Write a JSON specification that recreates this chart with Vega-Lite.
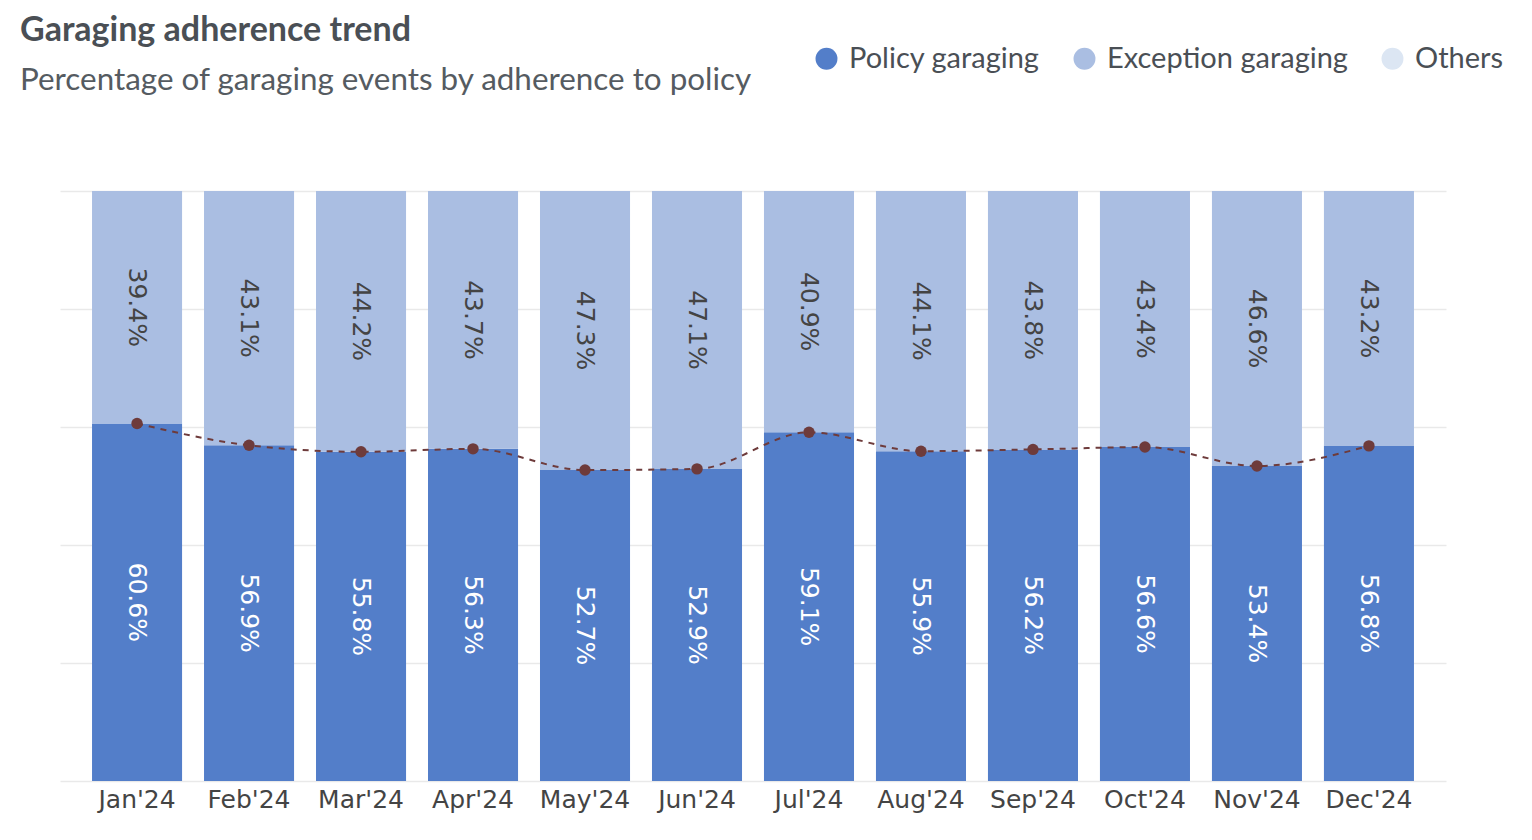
{
  "$schema": "https://vega.github.io/schema/vega-lite/v6.json",
  "width": 1386,
  "height": 590,
  "autosize": {"type": "none"},
  "padding": {"left": 60, "top": 191, "right": 86, "bottom": 59},
  "background": "white",
  "title": {
    "text": "Garaging adherence trend",
    "subtitle": "Percentage of garaging events by adherence to policy",
    "anchor": "start",
    "frame": "group",
    "dx": -40,
    "offset": -52,
    "font": "Lato",
    "fontSize": 34,
    "fontWeight": "bold",
    "color": "#4a4f55",
    "subtitleFont": "Lato",
    "subtitleFontSize": 31.4,
    "subtitleColor": "#555b61",
    "subtitlePadding": 17
  },
  "config": {
    "view": {"stroke": null},
    "axis": {"labelFont": "DejaVu Sans", "labelFontSize": 25, "labelColor": "#444444"}
  },
  "data": {
    "values": [
      {"month": "Jan'24", "series": "Policy garaging", "value": 0.606},
      {"month": "Jan'24", "series": "Exception garaging", "value": 0.394},
      {"month": "Feb'24", "series": "Policy garaging", "value": 0.569},
      {"month": "Feb'24", "series": "Exception garaging", "value": 0.431},
      {"month": "Mar'24", "series": "Policy garaging", "value": 0.558},
      {"month": "Mar'24", "series": "Exception garaging", "value": 0.442},
      {"month": "Apr'24", "series": "Policy garaging", "value": 0.563},
      {"month": "Apr'24", "series": "Exception garaging", "value": 0.437},
      {"month": "May'24", "series": "Policy garaging", "value": 0.527},
      {"month": "May'24", "series": "Exception garaging", "value": 0.473},
      {"month": "Jun'24", "series": "Policy garaging", "value": 0.529},
      {"month": "Jun'24", "series": "Exception garaging", "value": 0.471},
      {"month": "Jul'24", "series": "Policy garaging", "value": 0.591},
      {"month": "Jul'24", "series": "Exception garaging", "value": 0.409},
      {"month": "Aug'24", "series": "Policy garaging", "value": 0.559},
      {"month": "Aug'24", "series": "Exception garaging", "value": 0.441},
      {"month": "Sep'24", "series": "Policy garaging", "value": 0.562},
      {"month": "Sep'24", "series": "Exception garaging", "value": 0.438},
      {"month": "Oct'24", "series": "Policy garaging", "value": 0.566},
      {"month": "Oct'24", "series": "Exception garaging", "value": 0.434},
      {"month": "Nov'24", "series": "Policy garaging", "value": 0.534},
      {"month": "Nov'24", "series": "Exception garaging", "value": 0.466},
      {"month": "Dec'24", "series": "Policy garaging", "value": 0.568},
      {"month": "Dec'24", "series": "Exception garaging", "value": 0.432}
    ]
  },
  "encoding": {
    "x": {
      "field": "month",
      "type": "nominal",
      "sort": null,
      "scale": {"paddingInner": 0.196, "paddingOuter": 0.286},
      "axis": {"title": null, "labelAngle": 0, "ticks": false, "domain": false, "labelPadding": 6}
    }
  },
  "layer": [
    {
      "mark": {"type": "bar"},
      "encoding": {
        "y": {
          "field": "value",
          "type": "quantitative",
          "stack": "zero",
          "scale": {"domain": [0, 1], "nice": false},
          "axis": {
            "title": null,
            "values": [0, 0.2, 0.4, 0.6, 0.8, 1],
            "labels": false,
            "ticks": false,
            "domain": false,
            "gridColor": "#e9e9e9",
            "gridWidth": 1.5
          }
        },
        "color": {
          "field": "series",
          "type": "nominal",
          "scale": {
            "domain": ["Policy garaging", "Exception garaging", "Others"],
            "range": ["#537ec9", "#aabee2", "#dce6f3"]
          },
          "legend": {
            "title": null,
            "orient": "none",
            "direction": "horizontal",
            "legendX": 752,
            "legendY": -147,
            "symbolType": "circle",
            "symbolSize": 480,
            "symbolStrokeWidth": 0,
            "symbolOpacity": 1,
            "labelFont": "Lato",
            "labelFontSize": 29,
            "labelColor": "#4a4f55",
            "labelLimit": 400,
            "columnPadding": 30,
            "labelOffset": 8
          }
        },
        "order": {"field": "series", "sort": "descending"}
      }
    },
    {
      "transform": [{"filter": "datum.series === 'Policy garaging'"}],
      "mark": {"type": "line", "color": "#6e3b3b", "strokeWidth": 2, "strokeDash": [6, 6], "interpolate": "monotone"},
      "encoding": {
        "y": {"field": "value", "type": "quantitative", "scale": {"domain": [0, 1], "nice": false}, "axis": null}
      }
    },
    {
      "transform": [{"filter": "datum.series === 'Policy garaging'"}],
      "mark": {"type": "point", "filled": true, "opacity": 1, "color": "#6e3b3b", "size": 130},
      "encoding": {
        "y": {"field": "value", "type": "quantitative", "scale": {"domain": [0, 1], "nice": false}, "axis": null}
      }
    },
    {
      "transform": [{"filter": "datum.series === 'Policy garaging'"}],
      "mark": {"type": "text", "angle": 90, "fontSize": 25, "font": "DejaVu Sans", "color": "white", "align": "center", "baseline": "middle"},
      "encoding": {
        "y": {"field": "value", "type": "quantitative", "scale": {"domain": [0, 2], "nice": false}, "axis": null},
        "text": {"field": "value", "type": "quantitative", "format": ".1%"}
      }
    },
    {
      "transform": [{"filter": "datum.series === 'Exception garaging'"}],
      "mark": {"type": "text", "angle": 90, "fontSize": 25, "font": "DejaVu Sans", "color": "#444444", "align": "center", "baseline": "middle"},
      "encoding": {
        "y": {"field": "value", "type": "quantitative", "scale": {"domain": [0, 2], "nice": false, "reverse": true}, "axis": null},
        "text": {"field": "value", "type": "quantitative", "format": ".1%"}
      }
    }
  ],
  "resolve": {"scale": {"y": "independent"}}
}
